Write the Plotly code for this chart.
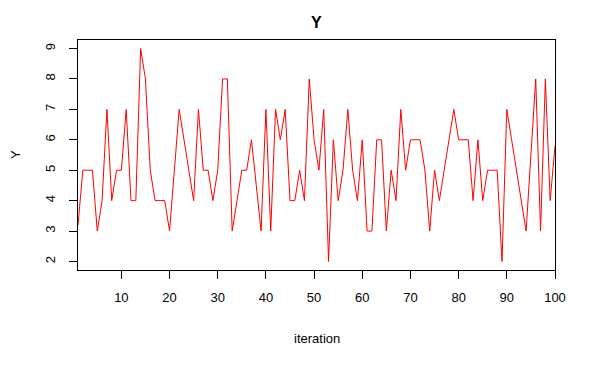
import plotly.graph_objects as go

iteration = list(range(1, 101))
y_values = [
    3.2, 5, 5, 5, 3, 4, 7, 4, 5, 5,
    7, 4, 4, 9, 8, 5, 4, 4, 4, 3,
    5, 7, 6, 5, 4, 7, 5, 5, 4, 5,
    8, 8, 3, 4, 5, 5, 6, 4.5, 3, 7,
    3, 7, 6, 7, 4, 4, 5, 4, 8, 6,
    5, 7, 2, 6, 4, 5, 7, 5, 4, 6,
    3, 3, 6, 6, 3, 5, 4, 7, 5, 6,
    6, 6, 5, 3, 5, 4, 5, 6, 7, 6,
    6, 6, 4, 6, 4, 5, 5, 5, 2, 7,
    6, 5, 4, 3, 5.5, 8, 3, 8, 4, 5.8,
]
x_ticks = [10, 20, 30, 40, 50, 60, 70, 80, 90, 100]
y_ticks = [2, 3, 4, 5, 6, 7, 8, 9]

font = "Liberation Sans, Arial, sans-serif"

# page has an 8px body margin; figure is placed at (8, 8)
W, H = 588, 360
L, R, T, B = 70, 41, 32, 98
plot_w = W - L - R
plot_h = H - T - B

fig = go.Figure()
fig.add_trace(go.Scatter(x=iteration, y=y_values, mode="lines",
                         line=dict(color="#ff0000", width=1), showlegend=False))

fig.update_layout(
    width=W, height=H,
    margin=dict(l=L, r=R, t=T, b=B, autoexpand=False),
    paper_bgcolor="white", plot_bgcolor="white",
    font=dict(family=font, size=12, color="black"),
    xaxis=dict(range=[1, 100], tickvals=x_ticks, ticks="outside", ticklen=8,
               tickcolor="black", showline=True, mirror=True, linecolor="black",
               linewidth=1, showgrid=False, zeroline=False, ticklabelstandoff=7,
               tickfont=dict(size=13, color="black")),
    yaxis=dict(range=[1.72, 9.28], tickvals=y_ticks, ticks="outside", ticklen=8,
               tickcolor="black", showline=True, mirror=True, linecolor="black",
               linewidth=1, showgrid=False, zeroline=False, tickangle=-90,
               ticklabelstandoff=9,
               tickfont=dict(size=13, color="black")),
    annotations=[
        dict(text="<b>Y</b>", x=0.5, y=(270 - 22) / plot_h, xref="x domain", yref="paper",
             showarrow=False, font=dict(size=16), yanchor="middle"),
        dict(text="iteration", x=0.5, y=-(338 - 270) / plot_h, xref="x domain", yref="paper",
             showarrow=False, font=dict(size=13), yanchor="middle"),
        dict(text="Y", x=(15 - 78) / plot_w, y=0.5, xref="paper", yref="y domain",
             showarrow=False, font=dict(size=13), textangle=-90, xanchor="center"),
    ],
)

fig.write_html("out.html")
